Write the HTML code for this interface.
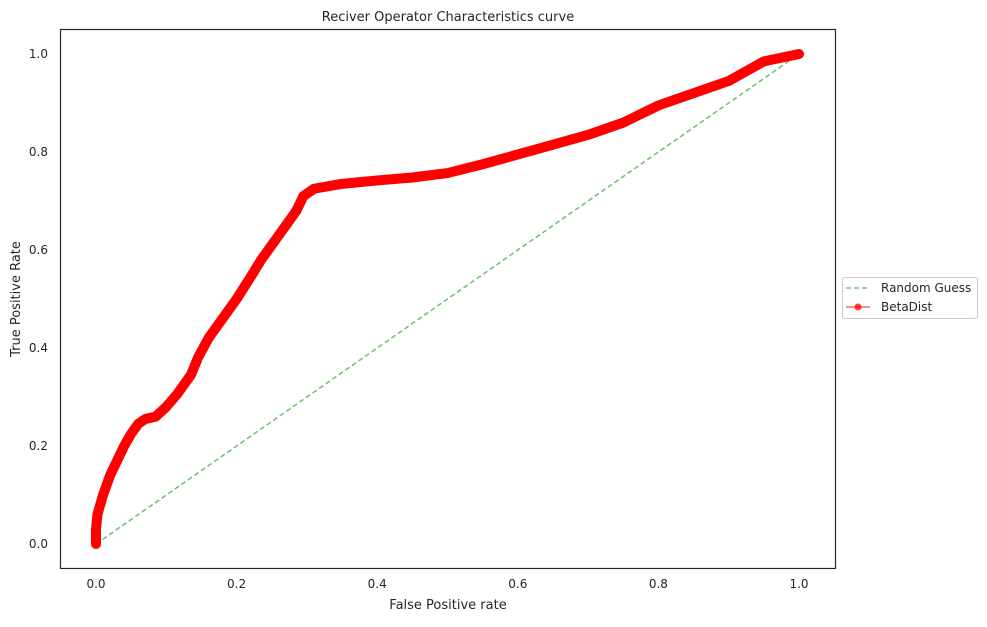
<!DOCTYPE html>
<html><head><meta charset="utf-8"><style>
body{margin:0;background:#fff;font-family:"Liberation Sans","DejaVu Sans",sans-serif;}
svg text{fill:#262626;font-family:"DejaVu Sans","Liberation Sans",sans-serif;}
</style></head><body>
<svg width="987" height="622" xmlns="http://www.w3.org/2000/svg">
<rect width="987" height="622" fill="#fff"/>
<text x="448" y="21" font-size="13" text-anchor="middle">Reciver Operator Characteristics curve</text>
<g id="ticks"></g>
<g id="plot"></g>
<rect x="60.5" y="29.5" width="775" height="539" fill="none" stroke="#262626" stroke-width="1.2"/>
<text x="448" y="609" font-size="13" text-anchor="middle">False Positive rate</text>
<text transform="translate(20,299) rotate(-90)" font-size="13" text-anchor="middle">True Positive Rate</text>
<g>
<rect x="842.5" y="277.5" width="135" height="41" rx="2" fill="#fff" stroke="#ccc"/>
<g>
<line x1="846" y1="288" x2="870" y2="288" stroke="#5cb85c" stroke-opacity="0.85" stroke-width="1.5" stroke-dasharray="5,3"/>
<text x="881" y="292" font-size="12">Random Guess</text></g>
<g>
<line x1="846" y1="307" x2="870" y2="307" stroke="#ff0000" stroke-opacity="0.6" stroke-width="1.5"/>
<circle cx="858" cy="307" r="3.5" fill="#ff0000" fill-opacity="0.75"/>
<text x="881" y="311" font-size="12">BetaDist</text></g>
</g>
</svg>
<script>
const xTicks=[0,0.2,0.4,0.6,0.8,1.0];
const yTicks=[0,0.2,0.4,0.6,0.8,1.0];
const fpr=[0,0,0.002,0.01,0.02,0.03,0.04,0.05,0.06,0.07,0.085,0.1,0.115,0.135,0.145,0.16,0.18,0.2,0.22,0.235,0.25,0.27,0.285,0.295,0.31,0.35,0.4,0.45,0.5,0.55,0.6,0.65,0.7,0.75,0.8,0.85,0.9,0.95,1];
const tpr=[0,0.03,0.06,0.1,0.14,0.17,0.2,0.225,0.245,0.255,0.26,0.28,0.305,0.345,0.38,0.42,0.46,0.5,0.545,0.58,0.61,0.65,0.68,0.71,0.725,0.735,0.742,0.748,0.757,0.775,0.795,0.815,0.835,0.86,0.895,0.92,0.945,0.985,1];
const randX=[0,1], randY=[0,1];
const sx=v=>96+v*703, sy=v=>544-v*490;
const NS="http://www.w3.org/2000/svg";
const tg=document.getElementById('ticks'), pg=document.getElementById('plot');
function mk(tag,attrs,parent){const e=document.createElementNS(NS,tag);for(const k in attrs)e.setAttribute(k,attrs[k]);parent.appendChild(e);return e;}
xTicks.forEach(v=>{const t=mk('text',{x:sx(v),y:588,'font-size':12,'text-anchor':'middle'},tg);t.textContent=v.toFixed(1);

});
yTicks.forEach(v=>{const t=mk('text',{x:48,y:sy(v)+4,'font-size':12,'text-anchor':'end'},tg);t.textContent=v.toFixed(1);

});
const rl=mk('polyline',{points:randX.map((x,i)=>sx(x)+','+sy(randY[i])).join(' '),fill:'none',stroke:'#5cb85c','stroke-opacity':0.9,'stroke-width':1.5,'stroke-dasharray':'5,3'},pg);


const bl=mk('polyline',{points:fpr.map((x,i)=>sx(x)+','+sy(tpr[i])).join(' '),fill:'none',stroke:'#ff0000','stroke-width':10,'stroke-linejoin':'round','stroke-linecap':'round'},pg);


fpr.forEach((x,i)=>{const c=mk('circle',{cx:sx(x),cy:sy(tpr[i]),r:4.5,fill:'#ff0000'},pg);

});
</script>
</body></html>
